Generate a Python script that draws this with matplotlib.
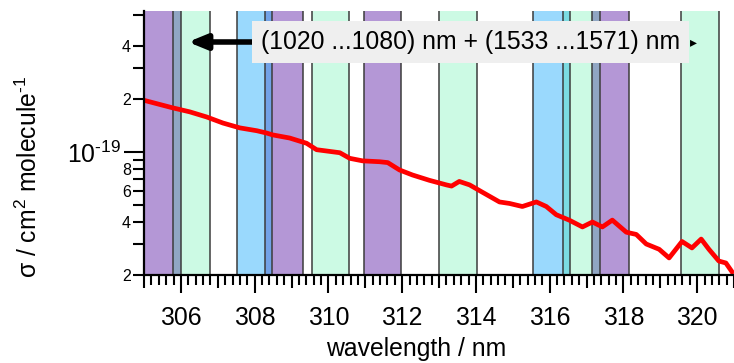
import matplotlib
matplotlib.use('Agg')
import matplotlib.pyplot as plt
import matplotlib.ticker as mticker
import numpy as np

plt.rcParams['font.family'] = ['Liberation Sans', 'DejaVu Sans']
plt.rcParams['mathtext.fontset'] = 'custom'
plt.rcParams['mathtext.rm'] = 'Liberation Sans'
plt.rcParams['mathtext.it'] = 'Liberation Sans:italic'
plt.rcParams['mathtext.default'] = 'regular'

# cross section (units of 1e-19 cm^2/molecule)
wl = [304.98, 305.78, 306.24, 306.70, 307.14, 307.60, 308.06, 308.33, 308.49,
      308.95, 309.41, 309.68, 310.31, 310.58, 310.93, 311.39, 311.61, 311.93,
      312.28, 312.74, 313.20, 313.34, 313.55, 313.83, 314.18, 314.64, 314.91,
      315.26, 315.64, 315.91, 316.18, 316.53, 316.89, 317.16, 317.43, 317.70,
      318.08, 318.35, 318.62, 318.97, 319.24, 319.59, 319.86, 320.11, 320.32,
      320.59, 320.78, 320.95]
sigma = [1.97, 1.78, 1.69, 1.58, 1.46, 1.37, 1.32, 1.28, 1.25,
         1.20, 1.12, 1.03, 0.99, 0.92, 0.89, 0.88, 0.87, 0.79,
         0.74, 0.69, 0.65, 0.64, 0.68, 0.65, 0.59, 0.52, 0.51,
         0.49, 0.52, 0.49, 0.44, 0.41, 0.375, 0.40, 0.375, 0.41,
         0.35, 0.34, 0.30, 0.28, 0.25, 0.31, 0.285, 0.32, 0.28,
         0.24, 0.234, 0.208]

# wavelength bands (nm)
purple_lo = [304.90, 308.28, 310.97, 317.14]
purple_hi = [306.00, 309.32, 311.98, 318.15]
blue_lo = [307.52, 315.54]
blue_hi = [308.47, 316.54]
green_lo = [305.78, 309.56, 313.01, 316.35, 319.56]
green_hi = [306.79, 310.57, 314.04, 317.36, 320.59]

xtick_major = list(range(305, 322))
xtick_labels = [str(v) if v % 2 == 0 else '' for v in xtick_major]
ytick_minor = [2e-20, 3e-20, 4e-20, 5e-20, 6e-20, 7e-20, 8e-20, 9e-20,
               2e-19, 3e-19, 4e-19, 6e-19]
ytick_minor_labels = ['2', '', '4', '', '6', '', '8', '', '2', '', '4', '']

box_text = '(1020 ...1080) nm + (1533 ...1571) nm'

fig = plt.figure(figsize=(7.34, 3.63), dpi=100)
ax = fig.add_axes([144 / 734, 88 / 363, 590 / 734, 264 / 363])

for lo, hi in zip(purple_lo, purple_hi):
    ax.axvspan(lo, hi, color=(180/255, 151/255, 214/255), lw=0, zorder=1)
for lo, hi in zip(blue_lo, blue_hi):
    ax.axvspan(lo, hi, color=(40/255, 175/255, 252/255), alpha=0.47, lw=0, zorder=2)
for lo, hi in zip(green_lo, green_hi):
    ax.axvspan(lo, hi, color=(0, 230/255, 120/255), alpha=0.2, lw=0, zorder=3)
edges = purple_lo + purple_hi + blue_lo + blue_hi + green_lo + green_hi
ax.vlines(edges, 0, 1, transform=ax.get_xaxis_transform(),
          colors='#3c3c3c', lw=1.1, zorder=4)

ax.plot(wl, np.array(sigma) * 1e-19, color='red', lw=3.4, zorder=5,
        solid_joinstyle='round')

ax.set_xlim(305.0, 321.0)
ax.set_yscale('log')
ax.set_ylim(2e-20, 6.32e-19)

ax.xaxis.set_major_locator(mticker.FixedLocator(xtick_major))
ax.xaxis.set_major_formatter(mticker.FixedFormatter(xtick_labels))
ax.xaxis.set_minor_locator(mticker.MultipleLocator(0.2))
ax.yaxis.set_major_locator(mticker.FixedLocator([1e-19]))
ax.yaxis.set_major_formatter(mticker.FixedFormatter([r'$10^{\text{-}19}$']))
ax.yaxis.set_minor_locator(mticker.FixedLocator(ytick_minor))
ax.yaxis.set_minor_formatter(mticker.FixedFormatter(ytick_minor_labels))

for s in ['top', 'right']:
    ax.spines[s].set_visible(False)
for s in ['left', 'bottom']:
    ax.spines[s].set_linewidth(1.6)
    ax.spines[s].set_zorder(6)

ax.tick_params(axis='x', which='major', direction='out', length=13, width=1.5,
               labelsize=17.8, pad=9)
ax.tick_params(axis='x', which='minor', direction='out', length=7.2, width=1.5)
ax.tick_params(axis='y', which='major', direction='out', length=14.4, width=1.5,
               labelsize=17.8, pad=2)
ax.tick_params(axis='y', which='minor', direction='out', length=8, width=1.5,
               labelsize=11.5, pad=1.5)
for v, t in zip(xtick_major, ax.xaxis.get_major_ticks()):
    if v % 2:
        t.tick1line.set_markersize(9.4)

ax.set_xlabel('wavelength / nm', fontsize=17.8)
ax.xaxis.set_label_coords(0.461, -0.236)
ax.set_ylabel(r'σ / cm$^2$ molecule$^{\text{-}1}$', fontsize=17.8)
ax.yaxis.set_label_coords(-0.173, 0.37)

ax.annotate('', xy=(0.0746, 0.8826), xytext=(0.185, 0.8826),
            xycoords='axes fraction', textcoords='axes fraction',
            arrowprops=dict(arrowstyle='-|>,head_length=1.1,head_width=0.45',
                            lw=4, color='black', shrinkA=0, shrinkB=0),
            zorder=7)
ax.text(0.198, 0.8826, box_text, transform=ax.transAxes, ha='left', va='center',
        fontsize=17.8, zorder=8,
        bbox=dict(boxstyle='square,pad=0.37', fc='#efefef', ec='none'))
ax.text(0.926, 0.8826, '▸', transform=ax.transAxes, ha='left', va='center',
        fontsize=10, family='DejaVu Sans', zorder=8)

fig.savefig('out.png', dpi=100)
